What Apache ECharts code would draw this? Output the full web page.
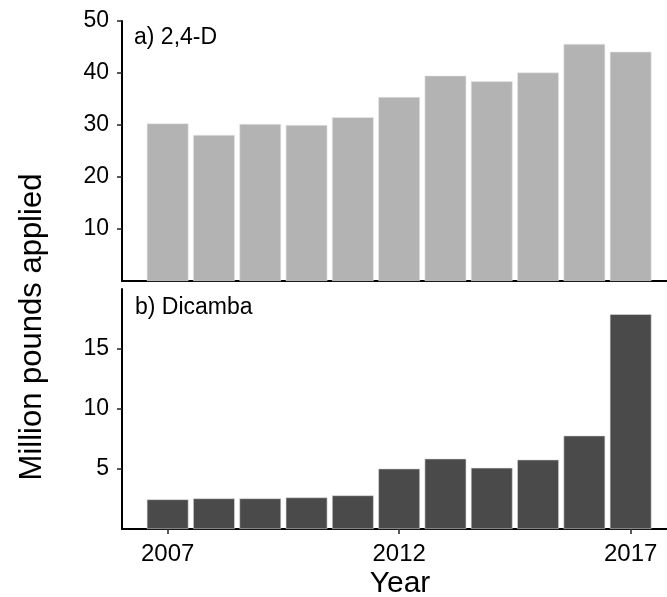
<!DOCTYPE html>
<html>
<head>
<meta charset="utf-8">
<script src="https://cdn.jsdelivr.net/npm/echarts@6/dist/echarts.min.js"></script>
<style>
html,body{margin:0;padding:0;background:#fff;}
#chart{width:667px;height:597px;}
</style>
</head>
<body>
<div id="chart"></div>
<script>
const years = [2007, 2008, 2009, 2010, 2011, 2012, 2013, 2014, 2015, 2016, 2017];
const d24 = [30.3, 28.1, 30.2, 30.0, 31.5, 35.4, 39.5, 38.4, 40.1, 45.6, 44.1];
const dicamba = [2.47, 2.55, 2.55, 2.63, 2.8, 5.03, 5.86, 5.1, 5.78, 7.78, 17.9];
const yTicksTop = [10, 20, 30, 40, 50];
const yTicksBottom = [5, 10, 15];
const xTicks = [2007, 2012, 2017];
const panelLabels = ['a) 2,4-D', 'b) Dicamba'];
const yTitle = 'Million pounds applied';
const xTitle = 'Year';

const FONT = 'Liberation Sans, Arial, sans-serif';
const chart = echarts.init(document.getElementById('chart'), null, {renderer: 'canvas'});

const axisLine = {show: true, onZero: false, lineStyle: {color: '#000', width: 2}};
const yAxisCommon = {
  type: 'value',
  axisLine: axisLine,
  splitLine: {show: false},
  axisTick: {show: true, length: 5, lineStyle: {color: '#222', width: 1.5}},
  axisLabel: {color: '#000', fontSize: 23, fontFamily: FONT, margin: 13}
};
const xMin = 2006.014, xMax = 2017.785;

const option = {
  animation: false,
  backgroundColor: '#fff',
  grid: [
    {left: 122, right: 0, top: 21, height: 260},
    {left: 122, right: 0, top: 289, height: 240}
  ],
  xAxis: [
    {type: 'value', gridIndex: 0, min: xMin, max: xMax, axisLine: axisLine,
     axisTick: {show: false}, axisLabel: {show: false}, splitLine: {show: false}},
    {type: 'value', gridIndex: 1, min: xMin, max: xMax, axisLine: axisLine,
     splitLine: {show: false},
     axisTick: {show: true, length: 5, customValues: xTicks, lineStyle: {color: '#222', width: 1.5}},
     axisLabel: {customValues: xTicks, color: '#000', fontSize: 24, fontFamily: FONT, margin: 13,
       formatter: v => String(v)}}
  ],
  yAxis: [
    Object.assign({}, yAxisCommon, {gridIndex: 0, min: 0, max: 50,
      axisTick: Object.assign({}, yAxisCommon.axisTick, {customValues: yTicksTop}),
      axisLabel: Object.assign({}, yAxisCommon.axisLabel, {customValues: yTicksTop})}),
    Object.assign({}, yAxisCommon, {gridIndex: 1, min: 0, max: 20,
      axisTick: Object.assign({}, yAxisCommon.axisTick, {customValues: yTicksBottom}),
      axisLabel: Object.assign({}, yAxisCommon.axisLabel, {customValues: yTicksBottom})})
  ],
  series: [
    {type: 'bar', xAxisIndex: 0, yAxisIndex: 0, barWidth: '90%',
     itemStyle: {color: '#b3b3b3', borderColor: '#e8e8e8', borderWidth: 0.6},
     data: years.map((y, i) => [y, d24[i]])},
    {type: 'bar', xAxisIndex: 1, yAxisIndex: 1, barWidth: '90%',
     itemStyle: {color: '#4a4a4a', borderColor: '#d8d8d8', borderWidth: 0.6},
     data: years.map((y, i) => [y, dicamba[i]])}
  ],
  graphic: [
    {type: 'text', x: 134, y: 38, style: {text: panelLabels[0], fill: '#000', font: '23px ' + FONT, textVerticalAlign: 'middle'}},
    {type: 'text', x: 135, y: 308, style: {text: panelLabels[1], fill: '#000', font: '23px ' + FONT, textVerticalAlign: 'middle'}},
    {type: 'text', x: 32, y: 327, rotation: Math.PI / 2,
     style: {text: yTitle, fill: '#000', font: '31px ' + FONT, textAlign: 'center', textVerticalAlign: 'middle'}},
    {type: 'text', x: 400, y: 584,
     style: {text: xTitle, fill: '#000', font: '30px ' + FONT, textAlign: 'center', textVerticalAlign: 'middle'}}
  ]
};
chart.setOption(option);
</script>
</body>
</html>
